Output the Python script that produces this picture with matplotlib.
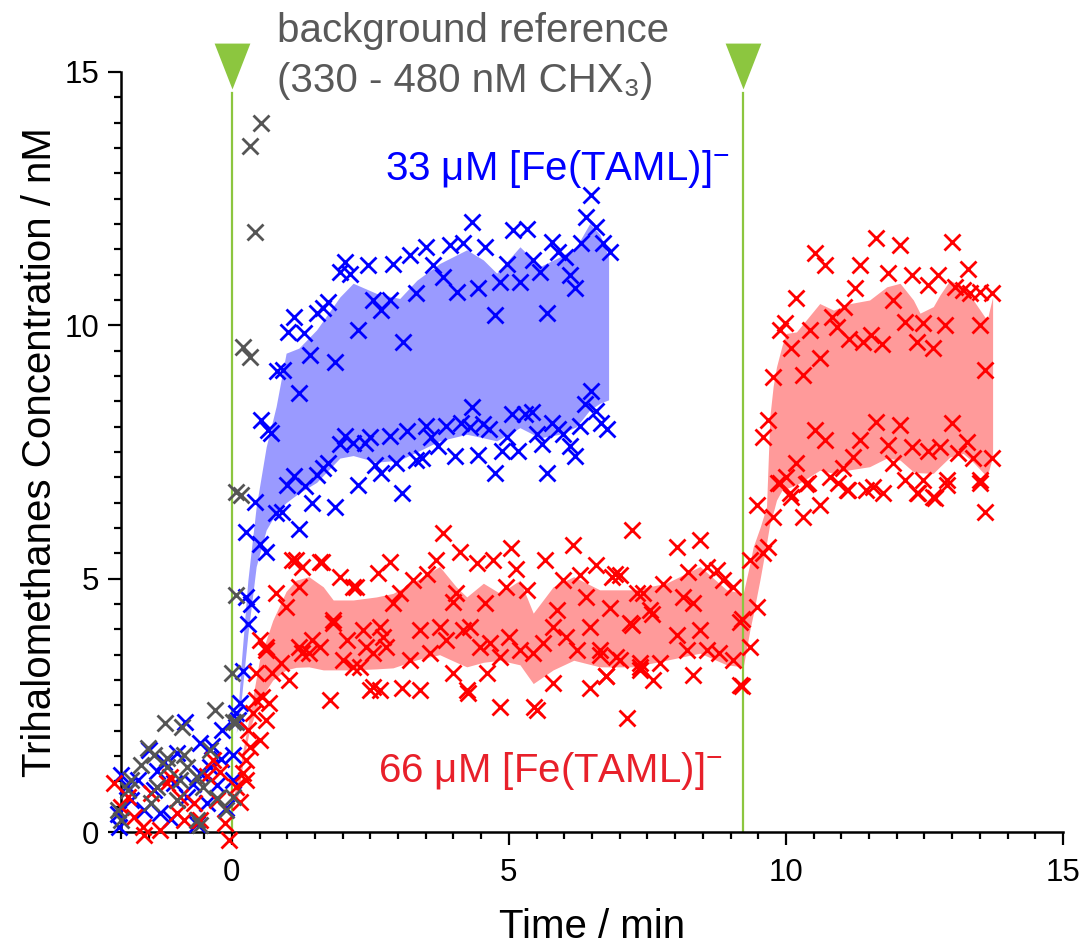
import numpy as np
import matplotlib
matplotlib.use('Agg')
from matplotlib import pyplot as plt
from matplotlib.ticker import MultipleLocator

plt.rcParams['font.family'] = ['Liberation Sans', 'DejaVu Sans']
plt.rcParams['mathtext.fontset'] = 'custom'
plt.rcParams['mathtext.rm'] = 'Liberation Sans'
plt.rcParams['mathtext.it'] = 'Liberation Sans:italic'
plt.rcParams['mathtext.bf'] = 'Liberation Sans:bold'

# ---- measured points (time / min, concentration / nM) ----
gray_t = [-0.30, -1.20, -0.90, -1.52, -1.41, -1.17, -0.87, -0.39, 0.08, -1.64,
          -1.82, -1.88, -2.06, -1.35, -0.81, -0.63, -0.52, -0.27, -0.10, -0.63,
          -0.57, -0.99, -1.46, -2.00, 0.02, -0.93, -1.17,
          0.02, 0.00, 0.08, 0.08, 0.17, 0.20, 0.32, 0.41, 0.32, 0.53]
gray_c = [2.41, 2.15, 2.08, 1.66, 1.52, 1.46, 1.52, 1.62, 2.18, 1.32,
          1.03, 0.83, 0.43, 0.89, 1.29, 1.09, 0.89, 0.67, 0.43, 0.24,
          0.14, 0.63, 0.57, 0.24, 0.70, 1.03, 1.29,
          2.18, 3.14, 4.68, 6.72, 6.65, 9.58, 9.38, 11.84, 13.54, 14.00]

blue_t = [-0.84, -0.18, 0.08, -0.57, -1.50, -0.99, -1.23, -0.39, 0.02, -2.00,
          -1.70, -1.41, -1.05, -0.81, -0.57, -0.27, 0.02, -1.59, -2.05, -1.82,
          -0.10, -1.29, -0.45, -2.03, 0.14, -1.90, -1.35, -0.70, -0.20, -1.10,
          -0.62, -0.35,
          0.11, 0.20, 0.29, 0.26, 0.35, 0.26, 0.41, 0.50, 0.62,
          0.53, 0.65, 0.71, 0.82, 0.92, 1.01, 1.13, 1.22, 1.31, 1.42,
          1.53, 1.65, 1.74, 1.86, 1.95, 2.04, 2.13, 2.28, 2.46, 2.55,
          2.70, 2.85, 2.91, 3.09, 3.21, 3.33, 3.51, 3.63, 3.81, 3.93,
          4.06, 4.17, 4.34, 4.44, 4.57, 4.75, 4.84, 4.96, 5.08, 5.20,
          5.32, 5.44, 5.56, 5.68, 5.77, 5.89, 6.01, 6.11, 6.19, 6.31,
          6.40, 6.49, 6.58, 6.70, 6.82,
          0.80, 0.91, 1.00, 1.13, 1.21, 1.33, 1.45, 1.53, 1.65, 1.73,
          1.86, 1.95, 2.04, 2.19, 2.27, 2.41, 2.49, 2.58, 2.70, 2.85,
          2.97, 3.08, 3.17, 3.33, 3.43, 3.51, 3.60, 3.72, 3.87, 4.02,
          4.14, 4.30, 4.34, 4.44, 4.53, 4.65, 4.75, 4.87, 4.96, 5.05,
          5.16, 5.29, 5.41, 5.50, 5.59, 5.68, 5.77, 5.89, 5.97, 6.11,
          6.19, 6.28, 6.37, 6.49, 6.58, 6.67, 6.78]
blue_c = [2.18, 2.01, 2.35, 1.76, 1.62, 1.56, 1.39, 1.29, 1.52, 1.12,
          1.03, 0.83, 0.97, 0.70, 1.16, 0.93, 1.03, 0.43, 0.35, 0.63,
          0.47, 0.37, 0.57, 0.10, 2.54, 0.90, 1.20, 0.95, 1.45, 0.25,
          0.15, 1.70,
          2.22, 3.18, 4.10, 4.64, 4.50, 5.92, 6.52, 5.69, 5.52,
          8.13, 7.93, 7.87, 9.09, 9.12, 9.87, 10.17, 8.66, 9.84, 9.41,
          10.24, 10.34, 10.47, 9.28, 11.05, 11.25, 11.02, 9.91, 11.19, 10.50,
          10.30, 10.50, 11.22, 9.67, 11.39, 10.63, 11.55, 11.19, 10.95, 11.59,
          10.65, 11.62, 12.04, 10.73, 11.55, 10.20, 10.85, 11.22, 11.88, 10.85,
          11.91, 11.29, 11.05, 10.24, 11.65, 11.45, 11.35, 10.99, 10.73, 11.62,
          12.14, 12.57, 11.94, 11.62, 11.45,
          6.29, 6.32, 6.85, 7.02, 5.99, 6.82, 6.49, 7.05, 7.19, 7.29,
          6.42, 7.65, 7.81, 7.68, 6.85, 7.68, 7.79, 7.25, 7.09, 7.81,
          7.29, 6.69, 7.91, 7.35, 7.39, 8.01, 7.79, 7.61, 8.01, 7.42,
          8.08, 7.99, 8.38, 7.45, 8.05, 7.95, 7.09, 7.51, 7.79, 8.25,
          7.51, 8.25, 8.28, 7.85, 7.65, 7.09, 8.08, 7.95, 7.85, 7.61,
          7.42, 8.01, 8.44, 8.71, 8.31, 8.08, 7.95]

red_t = [-2.12, -2.00, -1.77, -1.61, -1.59, -1.17, -1.11, -0.93, -0.99, -0.87,
         -0.69, -0.34, -0.21, -0.27, -0.12, 0.08, 0.14, 0.20, 0.26, -1.46,
         -1.88, -0.57, -0.05, -1.30, -0.45,
         0.26, 0.32, 0.29, 0.38, 0.44, 0.55, 0.50, 0.62, 0.68, 0.73,
         0.44, 0.50, 0.62, 0.80, 0.98, 0.89, 1.04, 1.16, 1.21, 1.27,
         1.45, 1.59, 1.77, 1.82, 1.95, 2.07, 2.18, 2.31, 2.43, 2.55,
         2.64, 2.73, 2.85, 2.91,
         3.81, 4.11, 5.04, 5.65, 6.16, 7.22, 7.13, 4.84, 5.50, 5.46,
         2.49, 2.67, 3.08, 3.40, 4.24, 4.27, 3.99, 4.60, 5.79, 6.46,
         6.76, 7.37,
         1.09, 1.27, 1.62, 2.25, 3.03, 3.27, 3.52, 3.69, 4.05, 4.42,
         4.72, 5.13, 4.95, 5.32, 5.97, 6.28, 6.58, 6.87, 6.92, 7.42,
         6.40, 5.86, 4.57, 3.99, 1.82,
         0.62, 1.21, 1.39, 1.60, 2.01, 2.18, 2.37, 2.55, 2.67, 2.79,
         3.21, 3.40, 3.58, 3.75, 3.87, 4.17, 4.30, 4.48, 4.66, 4.84,
         5.01, 5.20, 5.44, 5.62, 5.79, 6.04, 6.23, 6.46, 6.64, 6.94,
         7.19, 7.37,
         8.03, 8.45, 8.23, 8.57, 8.75, 8.86, 9.05, 7.00, 7.31, 7.78,
         8.14, 8.32, 6.82, 7.54, 7.58, 7.22, 8.03, 8.45, 9.17, 9.20,
         6.64, 7.00, 7.37, 7.72, 8.21, 8.57, 8.80, 9.05, 6.76, 7.60,
         8.32, 9.17, 9.20,
         9.35, 9.47, 9.35, 9.58, 9.67, 9.47, 9.76, 9.90, 10.07, 10.31,
         10.61, 10.36, 11.10, 11.45, 11.76, 12.36, 12.66, 12.90, 13.50, 13.60,
         9.68, 9.58, 10.01, 9.86, 10.19, 10.10, 10.40, 10.52, 10.70, 10.80,
         10.94, 11.03, 11.12, 11.21, 11.33, 11.57, 11.63, 11.84, 11.93, 12.06,
         12.15, 12.27, 12.38, 12.47, 12.56, 12.69, 12.78, 12.90, 12.99, 13.10,
         13.26, 13.37, 13.50, 13.72,
         10.52, 10.70, 10.19, 9.99, 9.90, 10.10, 9.76, 10.31, 10.61, 10.43,
         11.33, 11.25, 11.04, 10.83, 10.92, 11.13, 11.39, 11.54, 11.73, 11.63,
         12.06, 11.85, 11.94, 12.15, 12.27, 12.36, 12.47, 12.56, 12.75, 12.66,
         12.87, 12.99, 13.05, 13.20, 13.29, 13.32, 13.50, 13.72, 13.50, 13.60]
red_c = [0.97, 0.50, 0.30, 0.10, -0.05, 0.97, 1.09, 0.70, 0.37, 0.24,
         0.57, 1.42, 1.19, 0.63, 0.18, 0.89, 0.60, 1.16, 1.42, 0.77,
         0.70, 0.24, -0.15, 0.05, 1.10,
         1.03, 1.68, 2.01, 2.35, 2.60, 2.67, 1.82, 2.21, 2.54, 3.14,
         3.14, 3.79, 3.66, 4.71, 4.45, 3.33, 3.00, 5.37, 4.84, 3.53,
         3.79, 5.33, 2.60, 4.18, 5.04, 3.79, 4.84, 3.26, 3.66, 2.87,
         5.11, 3.85, 5.33, 4.52,
         5.90, 5.53, 5.60, 5.37, 5.66, 5.96, 2.25, 2.47, 2.41, 2.47,
         2.80, 2.80, 2.84, 2.80, 2.80, 2.74, 3.14, 3.14, 2.94, 2.84,
         3.07, 3.20,
         5.37, 5.24, 5.33, 4.84, 4.71, 4.97, 5.10, 5.37, 4.71, 5.30,
         5.37, 5.20, 4.84, 4.77, 4.97, 5.07, 5.27, 5.04, 5.10, 4.71,
         4.64, 4.38, 4.52, 4.54, 4.12,
         3.59, 3.66, 3.53, 3.66, 3.39, 3.26, 3.99, 3.53, 4.05, 3.66,
         3.39, 3.99, 3.53, 4.05, 3.79, 3.99, 4.05, 3.66, 3.73, 3.46,
         3.85, 3.59, 3.53, 3.73, 4.05, 3.85, 3.59, 4.05, 3.59, 3.46,
         4.12, 3.33,
         5.63, 5.76, 5.14, 5.24, 5.17, 4.97, 4.84, 5.07, 4.71, 4.90,
         4.64, 4.52, 4.42, 4.38, 4.30, 4.09, 3.89, 3.99, 4.15, 4.20,
         3.50, 3.39, 3.26, 3.33, 3.59, 3.59, 3.53, 3.39, 3.07, 3.00,
         3.10, 2.90, 2.88,
         3.66, 4.45, 5.37, 5.50, 5.63, 6.45, 6.22, 6.89, 6.69, 6.22,
         6.45, 6.87, 6.75, 6.75, 6.69, 6.69, 6.62, 6.85, 6.89, 6.32,
         8.13, 7.80, 7.01, 6.89, 7.28, 6.62, 6.89, 7.93, 7.74, 7.01,
         6.89, 7.18, 6.75, 7.41, 7.74, 6.81, 8.10, 7.64, 7.28, 8.03,
         6.95, 7.60, 6.69, 6.95, 7.51, 6.59, 7.60, 6.95, 8.07, 7.48,
         7.70, 7.38, 6.95, 7.38,
         11.42, 11.19, 10.53, 10.05, 9.91, 9.55, 8.99, 9.02, 9.35, 9.91,
         11.19, 10.73, 10.37, 10.17, 9.97, 9.74, 9.68, 9.81, 9.64, 11.72,
         11.58, 11.03, 10.50, 10.07, 10.99, 9.68, 10.04, 10.80, 10.99, 9.55,
         10.00, 11.65, 10.76, 10.70, 11.12, 10.63, 10.66, 10.63, 10.00, 9.12]

# ---- range bands (smoothed min / max of the replicates) ----
blue_band_t = [0.08, 0.11, 0.17, 0.29, 0.44, 0.62, 0.80, 0.98, 1.21, 1.53,
               1.95, 2.19, 2.61, 3.03, 3.34, 3.75, 4.24, 4.54, 4.78, 5.20,
               5.56, 5.92, 6.22, 6.46, 6.64, 6.80]
blue_band_hi = [1.95, 2.35, 3.33, 4.97, 6.42, 7.60, 8.40, 9.45, 9.55, 9.91,
                10.56, 10.83, 10.63, 10.53, 10.89, 11.22, 11.49, 11.29, 11.03, 11.55,
                11.16, 11.35, 11.55, 12.01, 11.80, 11.35]
blue_band_lo = [1.95, 2.10, 2.60, 3.90, 5.24, 5.96, 6.30, 6.50, 6.69, 6.90,
                7.38, 7.43, 7.30, 7.34, 7.50, 7.72, 7.85, 7.78, 7.72, 7.98,
                7.78, 7.85, 8.00, 8.33, 8.46, 8.53]

red_band_t = [0.03, 0.11, 0.20, 0.32, 0.50, 0.74, 0.98, 1.16, 1.39, 1.65,
              1.83, 2.19, 2.61, 2.91, 3.34, 3.75, 4.05, 4.24, 4.54, 4.84,
              5.20, 5.44, 5.80, 6.17, 6.64, 7.25, 7.84, 8.45, 8.93, 9.23,
              9.35, 9.41, 9.53, 9.65, 9.71, 9.77, 9.83, 9.93, 10.01, 10.19,
              10.61, 10.86, 11.16, 11.51, 11.82, 12.06, 12.30, 12.42, 12.66, 12.78,
              12.96, 13.20, 13.38, 13.63, 13.73]
red_band_hi = [0.70, 1.03, 1.60, 2.30, 3.40, 4.18, 4.75, 4.97, 5.04, 4.84,
               4.58, 4.58, 4.64, 4.71, 4.97, 5.24, 4.84, 4.64, 4.91, 4.71,
               4.97, 4.32, 4.84, 5.04, 4.78, 4.78, 4.91, 5.24, 4.78, 4.71,
               5.30, 5.63, 6.00, 6.42, 8.20, 8.80, 9.18, 9.60, 9.84, 9.87,
               10.43, 10.30, 10.43, 10.50, 10.76, 10.83, 10.50, 10.24, 10.37, 10.60,
               10.89, 10.76, 10.50, 10.10, 10.56]
red_band_lo = [0.60, 0.70, 1.36, 2.01, 2.60, 3.00, 3.20, 3.25, 3.26, 3.20,
               3.20, 3.20, 3.22, 3.24, 3.40, 3.50, 3.35, 3.26, 3.35, 3.39,
               3.30, 2.93, 3.20, 3.39, 3.26, 3.26, 3.39, 3.53, 3.30, 3.26,
               3.99, 4.30, 4.97, 5.70, 6.09, 6.30, 6.55, 6.75, 6.78, 6.85,
               7.14, 7.08, 7.15, 7.21, 7.38, 7.34, 7.11, 7.09, 7.08, 7.21,
               7.40, 7.47, 7.30, 7.01, 7.41]

events = [0.0, 9.23]

green = '#8cc63f'

fig = plt.figure(figsize=(10.85, 9.47), dpi=100)
ax = fig.add_axes([0.1115, 0.1214, 0.8682, 0.8026])

ax.fill_between(blue_band_t, blue_band_lo, blue_band_hi, color='#9a9aff', lw=0, zorder=1)
ax.fill_between(red_band_t, red_band_lo, red_band_hi, color='#ff9a9a', lw=0, zorder=1)

# event lines + markers on top
tri = [(-0.78, 1), (0.78, 1), (0, -1)]
for t in events:
    ax.plot([t, t], [0, 14.58], color=green, lw=1.6, zorder=2)
    ax.plot([t], [15.12], marker=tri, ms=33, color=green, mec='none',
            clip_on=False, zorder=5)

kw = dict(marker='x', ls='none', ms=12, mew=2.0, clip_on=False)
ax.plot(blue_t, blue_c, color='#0000ff', zorder=3, **kw)
ax.plot(red_t, red_c, color='#ff0000', zorder=3, **kw)
ax.plot(gray_t, gray_c, color='#555555', zorder=4, **kw)

ax.text(0.81, 15.59, 'background reference', color='#595959', fontsize=29,
        va='baseline', clip_on=False)
ax.text(0.81, 14.60, '(330 - 480 nM CHX\u2083)', color='#595959', fontsize=29,
        va='baseline', clip_on=False)
ax.text(2.76, 12.87, '33 \u03bcM [Fe(TAML)]$^{-}$', color='#0000ff', fontsize=29,
        va='baseline')
ax.text(2.64, 0.99, '66 \u03bcM [Fe(TAML)]$^{-}$', color='#e8202a', fontsize=29,
        va='baseline')

ax.set_xlim(-2, 15)
ax.set_ylim(0, 15)
ax.xaxis.set_major_locator(MultipleLocator(5))
ax.xaxis.set_minor_locator(MultipleLocator(0.5))
ax.yaxis.set_major_locator(MultipleLocator(5))
ax.yaxis.set_minor_locator(MultipleLocator(0.5))

for s in ['top', 'right']:
    ax.spines[s].set_visible(False)
for s in ['left', 'bottom']:
    ax.spines[s].set_linewidth(1.8)
ax.tick_params(which='major', direction='out', length=9.4, width=1.6,
               labelsize=22.5)
ax.tick_params(axis='x', which='major', pad=9)
ax.tick_params(axis='y', which='major', pad=6)
ax.tick_params(which='minor', direction='out', length=5, width=1.6)

ax.set_xlabel('Time / min', fontsize=29, labelpad=15)
ax.set_ylabel('Trihalomethanes Concentration / nM', fontsize=29, labelpad=4)

fig.savefig('out.png', dpi=100)
